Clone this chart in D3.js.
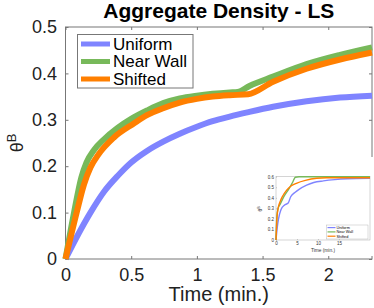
<!DOCTYPE html>
<html>
<head>
<meta charset="utf-8">
<script src="https://cdn.jsdelivr.net/npm/d3@7"></script>
<style>
  body { margin: 0; background: #fff; }
  svg { display: block; font-family: "Liberation Sans", Arial, Helvetica, sans-serif; }
</style>
</head>
<body>
<div id="chart"></div>
<script>
// Main chart data (time in min., aggregate density theta^B)
const uniformT = [0, 0.1, 0.19, 0.293, 0.4, 0.5, 0.62, 0.744, 0.87, 1.0, 1.12, 1.25, 1.4, 1.58, 1.835, 2.09, 2.333];
const uniformV = [0, 0.055, 0.1, 0.145, 0.18, 0.208, 0.233, 0.253, 0.27, 0.285, 0.297, 0.307, 0.317, 0.328, 0.34, 0.348, 0.352];

const nearWallT = [0, 0.065, 0.12, 0.16, 0.217, 0.293, 0.394, 0.5, 0.62, 0.744, 0.87, 1.0, 1.12, 1.25, 1.31, 1.4, 1.58, 1.835, 2.09, 2.333];
const nearWallV = [0, 0.1, 0.175, 0.208, 0.235, 0.258, 0.282, 0.302, 0.32, 0.336, 0.346, 0.352, 0.356, 0.359, 0.36, 0.373, 0.393, 0.42, 0.44, 0.456];

const shiftedT = [0, 0.085, 0.14, 0.19, 0.25, 0.369, 0.52, 0.62, 0.744, 0.87, 1.0, 1.12, 1.25, 1.39, 1.58, 1.835, 2.09, 2.333];
const shiftedV = [0, 0.1, 0.16, 0.197, 0.225, 0.262, 0.292, 0.31, 0.325, 0.337, 0.345, 0.35, 0.353, 0.355, 0.382, 0.41, 0.43, 0.445];

const xTicks = [0, 0.5, 1, 1.5, 2];
const yTicks = [0, 0.1, 0.2, 0.3, 0.4, 0.5];

// Inset data (full run, 0 - ~22 min.)
const insetUniformT = [0, 0.3, 0.6, 1.2, 2.0, 2.9, 3.5, 4.5, 5.5, 7.3, 9, 11.3, 14, 17, 22.4];
const insetUniformV = [0, 0.12, 0.2, 0.29, 0.33, 0.35, 0.41, 0.45, 0.48, 0.52, 0.545, 0.56, 0.572, 0.58, 0.585];
const insetNearWallT = [0, 0.2, 0.5, 1.0, 2.0, 3.0, 4.0, 4.6, 5.5, 7, 10, 22.4];
const insetNearWallV = [0, 0.22, 0.3, 0.34, 0.42, 0.48, 0.55, 0.595, 0.6, 0.6, 0.6, 0.6];
const insetShiftedT = [0, 0.25, 0.5, 0.95, 1.5, 2.5, 3.5, 5, 7, 9.7, 12, 22.4];
const insetShiftedV = [0, 0.22, 0.3, 0.36, 0.41, 0.47, 0.51, 0.54, 0.565, 0.585, 0.59, 0.59];
const insetXTicks = [0, 5, 10, 15];
const insetYTicks = [0, 0.1, 0.2, 0.3, 0.4, 0.5, 0.6];

const seriesNames = ['Uniform', 'Near Wall', 'Shifted'];
const colors = ['#7f84ff', '#77b95a', '#ff7f00'];

const W = 374, H = 308;
const margin = { top: 27, right: 2, bottom: 49, left: 65.5 };
const innerW = W - margin.left - margin.right;
const innerH = H - margin.top - margin.bottom;
const axisColor = '#777';
const textColor = '#222';

const svg = d3.select('#chart').append('svg')
  .attr('width', W)
  .attr('height', H);

const g = svg.append('g')
  .attr('transform', `translate(${margin.left},${margin.top})`);

const x = d3.scaleLinear().domain([0, 2.333]).range([0, innerW]);
const y = d3.scaleLinear().domain([0, 0.5]).range([innerH, 0]);

// Axes (ticks point inward like matlab)
const xAxis = g.append('g')
  .attr('transform', `translate(0,${innerH})`)
  .call(d3.axisBottom(x).tickValues(xTicks).tickFormat(d3.format('~g')).tickSizeInner(-3).tickSizeOuter(0).tickPadding(9));
const xAxisTop = g.append('g')
  .call(d3.axisTop(x).tickValues(xTicks).tickSizeInner(-3).tickSizeOuter(0).tickFormat(''));
const yAxis = g.append('g')
  .call(d3.axisLeft(y).tickValues(yTicks).tickFormat(d3.format('~g')).tickSizeInner(-3).tickSizeOuter(0).tickPadding(8.5));
const yAxisRight = g.append('g')
  .attr('transform', `translate(${innerW},0)`)
  .call(d3.axisRight(y).tickValues(yTicks).tickSizeInner(-3).tickSizeOuter(0).tickFormat(''));

[xAxis, xAxisTop, yAxis, yAxisRight].forEach(a => {
  a.select('.domain').remove();
  a.selectAll('.tick line').attr('stroke', axisColor);
  a.selectAll('.tick text').attr('fill', textColor).style('font-size', '18px');
});

// Box
g.append('rect')
  .attr('width', innerW)
  .attr('height', innerH)
  .attr('fill', 'none')
  .attr('stroke', axisColor)
  .attr('stroke-width', 1);

// Lines
const mainSeries = [
  { t: uniformT, v: uniformV },
  { t: nearWallT, v: nearWallV },
  { t: shiftedT, v: shiftedV }
];

const line = d3.line()
  .x(d => x(d[0]))
  .y(d => y(d[1]))
  .curve(d3.curveMonotoneX);

mainSeries.forEach((s, i) => {
  g.append('path')
    .datum(s.t.map((t, j) => [t, s.v[j]]))
    .attr('fill', 'none')
    .attr('stroke', colors[i])
    .attr('stroke-width', 6)
    .attr('d', line);
});

// Title and labels
svg.append('text')
  .attr('x', margin.left + innerW / 2)
  .attr('y', 17.5)
  .attr('text-anchor', 'middle')
  .style('font-size', '21px')
  .style('font-weight', 'bold')
  .attr('fill', '#000')
  .text('Aggregate Density - LS');

svg.append('text')
  .attr('x', margin.left + innerW / 2)
  .attr('y', 301)
  .attr('text-anchor', 'middle')
  .style('font-size', '20px')
  .attr('fill', textColor)
  .text('Time (min.)');

const yLabel = svg.append('text')
  .attr('transform', `translate(23,${margin.top + innerH / 2}) rotate(-90)`)
  .attr('text-anchor', 'middle')
  .style('font-size', '18px')
  .attr('fill', textColor);
yLabel.append('tspan').text('θ');
yLabel.append('tspan').attr('dy', -7).style('font-size', '13px').text('B');

// Legend
const legend = svg.append('g').attr('transform', 'translate(77.5,34.5)');
legend.append('rect')
  .attr('width', 115.5)
  .attr('height', 53.5)
  .attr('fill', '#fff')
  .attr('stroke', axisColor)
  .attr('stroke-width', 1);
seriesNames.forEach((name, i) => {
  const ly = 9.5 + i * 17.5;
  legend.append('line')
    .attr('x1', 3.5).attr('x2', 32.5)
    .attr('y1', ly).attr('y2', ly)
    .attr('stroke', colors[i])
    .attr('stroke-width', 5);
  legend.append('text')
    .attr('x', 35.5)
    .attr('y', ly)
    .attr('dy', '0.35em')
    .style('font-size', '17px')
    .attr('fill', '#000')
    .text(name);
});

// Inset plot
svg.append('rect')
  .attr('x', 255).attr('y', 157)
  .attr('width', 119).attr('height', 99)
  .attr('fill', '#fff');

const ix = d3.scaleLinear().domain([0, 22.4]).range([276, 370]);
const iy = d3.scaleLinear().domain([0, 0.6]).range([240, 176.7]);
const inset = svg.append('g');

const ixAxis = inset.append('g')
  .attr('transform', 'translate(0,240)')
  .call(d3.axisBottom(ix).tickValues(insetXTicks).tickSizeInner(-1).tickSizeOuter(0).tickPadding(2));
const iyAxis = inset.append('g')
  .attr('transform', 'translate(276,0)')
  .call(d3.axisLeft(iy).tickValues(insetYTicks).tickFormat(d3.format('~g')).tickSizeInner(-1).tickSizeOuter(0).tickPadding(2));
[ixAxis, iyAxis].forEach(a => {
  a.select('.domain').remove();
  a.selectAll('.tick line').attr('stroke', '#999').attr('stroke-width', 0.5);
  a.selectAll('.tick text').attr('fill', '#333').style('font-size', '4.5px');
});
inset.append('rect')
  .attr('x', 276).attr('y', 176.7)
  .attr('width', 94).attr('height', 63.3)
  .attr('fill', 'none')
  .attr('stroke', '#aaa')
  .attr('stroke-width', 0.5);

const insetSeries = [
  { t: insetUniformT, v: insetUniformV },
  { t: insetNearWallT, v: insetNearWallV },
  { t: insetShiftedT, v: insetShiftedV }
];
const iline = d3.line()
  .x(d => ix(d[0]))
  .y(d => iy(d[1]))
  .curve(d3.curveMonotoneX);
insetSeries.forEach((s, i) => {
  inset.append('path')
    .datum(s.t.map((t, j) => [t, s.v[j]]))
    .attr('fill', 'none')
    .attr('stroke', colors[i])
    .attr('stroke-width', 1.4)
    .attr('d', iline);
});

inset.append('text')
  .attr('x', 323).attr('y', 251.5)
  .attr('text-anchor', 'middle')
  .style('font-size', '4.8px')
  .attr('fill', '#333')
  .text('Time (min.)');
const iyLabel = inset.append('text')
  .attr('transform', 'translate(262,209) rotate(-90)')
  .attr('text-anchor', 'middle')
  .style('font-size', '4.8px')
  .attr('fill', '#333');
iyLabel.append('tspan').text('θ');
iyLabel.append('tspan').attr('dy', -2).style('font-size', '3.5px').text('B');

const iLegend = inset.append('g').attr('transform', 'translate(326.5,225)');
iLegend.append('rect')
  .attr('width', 41.5).attr('height', 14)
  .attr('fill', '#fff')
  .attr('stroke', '#aaa')
  .attr('stroke-width', 0.4);
seriesNames.forEach((name, i) => {
  const ly = 2.6 + i * 4.3;
  iLegend.append('line')
    .attr('x1', 1).attr('x2', 9)
    .attr('y1', ly).attr('y2', ly)
    .attr('stroke', colors[i])
    .attr('stroke-width', 1.2);
  iLegend.append('text')
    .attr('x', 10).attr('y', ly).attr('dy', '0.35em')
    .style('font-size', '3.8px')
    .attr('fill', '#000')
    .text(name);
});
</script>
</body>
</html>
